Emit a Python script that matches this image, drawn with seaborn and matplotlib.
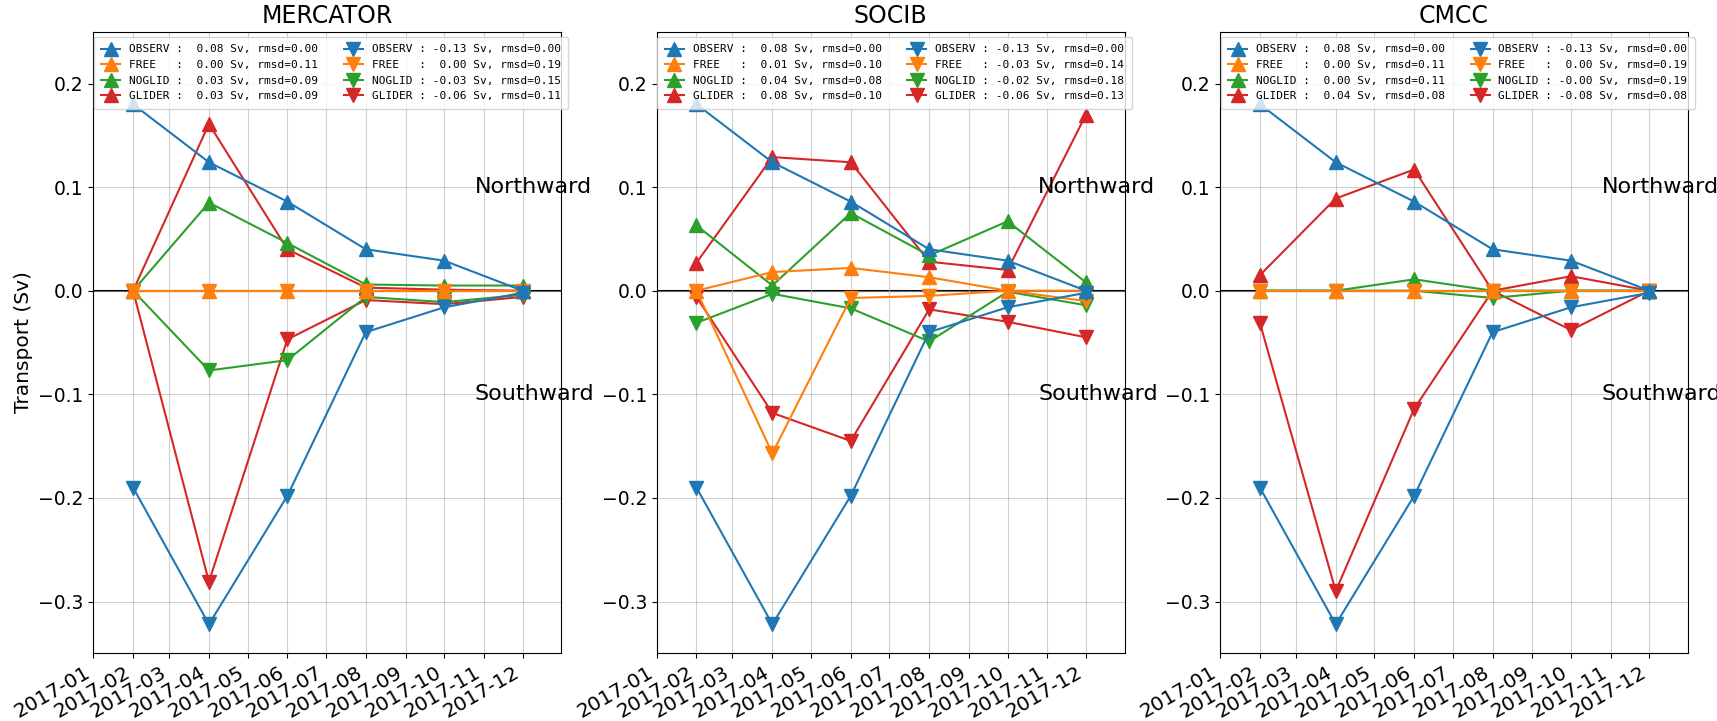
import matplotlib
matplotlib.use("Agg")
import matplotlib.pyplot as plt
import matplotlib.dates as mdates
import numpy as np
import pandas as pd
import seaborn as sns

# ---------------- data ----------------
dates = ["2017-02-01", "2017-04-01", "2017-06-01", "2017-08-01", "2017-10-01", "2017-12-01"]
panels = ["MERCATOR", "SOCIB", "CMCC"]
models = ["OBSERV", "FREE", "NOGLID", "GLIDER"]

observ_north = [0.180, 0.124, 0.086, 0.040, 0.029, 0.000]
observ_south = [-0.190, -0.322, -0.198, -0.040, -0.016, -0.002]

mercator_free_north = [0.000, 0.000, 0.000, 0.000, 0.000, 0.000]
mercator_free_south = [0.000, 0.000, 0.000, 0.000, 0.000, 0.000]
mercator_noglid_north = [0.000, 0.085, 0.046, 0.006, 0.005, 0.005]
mercator_noglid_south = [0.000, -0.077, -0.067, -0.006, -0.011, -0.004]
mercator_glider_north = [0.000, 0.161, 0.040, 0.003, 0.001, 0.000]
mercator_glider_south = [0.000, -0.281, -0.047, -0.009, -0.013, -0.006]

socib_free_north = [0.000, 0.018, 0.022, 0.013, 0.000, 0.000]
socib_free_south = [0.000, -0.157, -0.007, -0.005, 0.000, -0.010]
socib_noglid_north = [0.063, 0.005, 0.075, 0.034, 0.067, 0.008]
socib_noglid_south = [-0.031, -0.003, -0.017, -0.049, -0.001, -0.014]
socib_glider_north = [0.027, 0.129, 0.124, 0.028, 0.020, 0.170]
socib_glider_south = [-0.006, -0.118, -0.145, -0.018, -0.030, -0.045]

cmcc_free_north = [0.000, 0.000, 0.000, 0.000, 0.000, 0.000]
cmcc_free_south = [0.000, 0.000, 0.000, 0.000, 0.000, 0.000]
cmcc_noglid_north = [0.000, 0.000, 0.011, 0.000, 0.000, 0.000]
cmcc_noglid_south = [0.000, 0.000, 0.000, -0.007, 0.000, 0.000]
cmcc_glider_north = [0.015, 0.089, 0.117, 0.000, 0.014, 0.000]
cmcc_glider_south = [-0.031, -0.290, -0.114, 0.000, -0.038, 0.000]

# legend statistics (OBSERV, FREE, NOGLID, GLIDER)
mercator_mean_north = [0.08, 0.00, 0.03, 0.03]
mercator_rmsd_north = [0.00, 0.11, 0.09, 0.09]
mercator_mean_south = [-0.13, 0.00, -0.03, -0.06]
mercator_rmsd_south = [0.00, 0.19, 0.15, 0.11]

socib_mean_north = [0.08, 0.01, 0.04, 0.08]
socib_rmsd_north = [0.00, 0.10, 0.08, 0.10]
socib_mean_south = [-0.13, -0.03, -0.02, -0.06]
socib_rmsd_south = [0.00, 0.14, 0.18, 0.13]

cmcc_mean_north = [0.08, 0.00, 0.00, 0.04]
cmcc_rmsd_north = [0.00, 0.11, 0.11, 0.08]
cmcc_mean_south = [-0.13, 0.00, -0.0, -0.08]
cmcc_rmsd_south = [0.00, 0.19, 0.19, 0.08]

panel_series = {
    "MERCATOR": {
        "OBSERV": (observ_north, observ_south),
        "FREE": (mercator_free_north, mercator_free_south),
        "NOGLID": (mercator_noglid_north, mercator_noglid_south),
        "GLIDER": (mercator_glider_north, mercator_glider_south),
    },
    "SOCIB": {
        "OBSERV": (observ_north, observ_south),
        "FREE": (socib_free_north, socib_free_south),
        "NOGLID": (socib_noglid_north, socib_noglid_south),
        "GLIDER": (socib_glider_north, socib_glider_south),
    },
    "CMCC": {
        "OBSERV": (observ_north, observ_south),
        "FREE": (cmcc_free_north, cmcc_free_south),
        "NOGLID": (cmcc_noglid_north, cmcc_noglid_south),
        "GLIDER": (cmcc_glider_north, cmcc_glider_south),
    },
}
panel_stats = {
    "MERCATOR": (mercator_mean_north, mercator_rmsd_north, mercator_mean_south, mercator_rmsd_south),
    "SOCIB": (socib_mean_north, socib_rmsd_north, socib_mean_south, socib_rmsd_south),
    "CMCC": (cmcc_mean_north, cmcc_rmsd_north, cmcc_mean_south, cmcc_rmsd_south),
}

colors = {"OBSERV": "#1f77b4", "FREE": "#ff7f0e", "NOGLID": "#2ca02c", "GLIDER": "#d62728"}
draw_order = ["GLIDER", "NOGLID", "FREE", "OBSERV"]

x = pd.to_datetime(dates)

fig, axes = plt.subplots(1, 3, figsize=(17.17, 7.21), dpi=100)
fig.subplots_adjust(left=0.0543, right=0.9831, bottom=0.0939, top=0.956, wspace=0.204)

for ax, pname in zip(axes, panels):
    ax.axhline(0, color="k", lw=1.5, zorder=1.5)
    series = panel_series[pname]
    mn, rn, ms, rs = panel_stats[pname]
    handles = {}
    for m in draw_order:
        i = models.index(m)
        north, south = series[m]
        c = colors[m]
        lab_n = f"{m:<6s} : {mn[i]:5.2f} Sv, rmsd={rn[i]:.2f}"
        lab_s = f"{m:<6s} : {ms[i]:5.2f} Sv, rmsd={rs[i]:.2f}"
        for vals, mk, lab, key in ((north, "^", lab_n, ("n", m)), (south, "v", lab_s, ("s", m))):
            sns.lineplot(x=x, y=vals, ax=ax, color=c, marker=mk, markersize=10,
                         markeredgecolor=c, markeredgewidth=1.0, lw=1.5, label=lab)
            handles[key] = (ax.get_lines()[-1], lab)
    order = [("n", m) for m in models] + [("s", m) for m in models]
    hs = [handles[k][0] for k in order]
    ls = [handles[k][1] for k in order]
    ax.legend(hs, ls, loc="upper left", bbox_to_anchor=(0.001, 0.992), borderaxespad=0.0,
              ncol=2, prop={"family": "DejaVu Sans Mono", "size": 8},
              labelspacing=0.5, borderpad=0.7, handlelength=1.7, columnspacing=2.3)

    ax.set_xlim(pd.Timestamp("2017-01-01"), pd.Timestamp("2017-12-31"))
    ax.set_ylim(-0.35, 0.25)
    ax.xaxis.set_major_locator(mdates.MonthLocator())
    ax.xaxis.set_major_formatter(mdates.DateFormatter("%Y-%m"))
    ax.grid(True, color="#b0b0b0", alpha=0.6)
    ax.tick_params(axis="y", labelsize=13.5)
    ax.tick_params(axis="x", labelsize=14.5)
    plt.setp(ax.get_xticklabels(), rotation=30, ha="right")
    ax.set_title(pname, fontsize=17)
    ax.set_xlabel("")
    ax.set_ylabel("")
    ax.text(0.815, 0.1, "Northward", transform=ax.get_yaxis_transform(), fontsize=16, va="center")
    ax.text(0.815, -0.1, "Southward", transform=ax.get_yaxis_transform(), fontsize=16, va="center")

axes[0].set_ylabel("Transport (Sv)", fontsize=14.5)

fig.savefig("out.png", dpi=100)
